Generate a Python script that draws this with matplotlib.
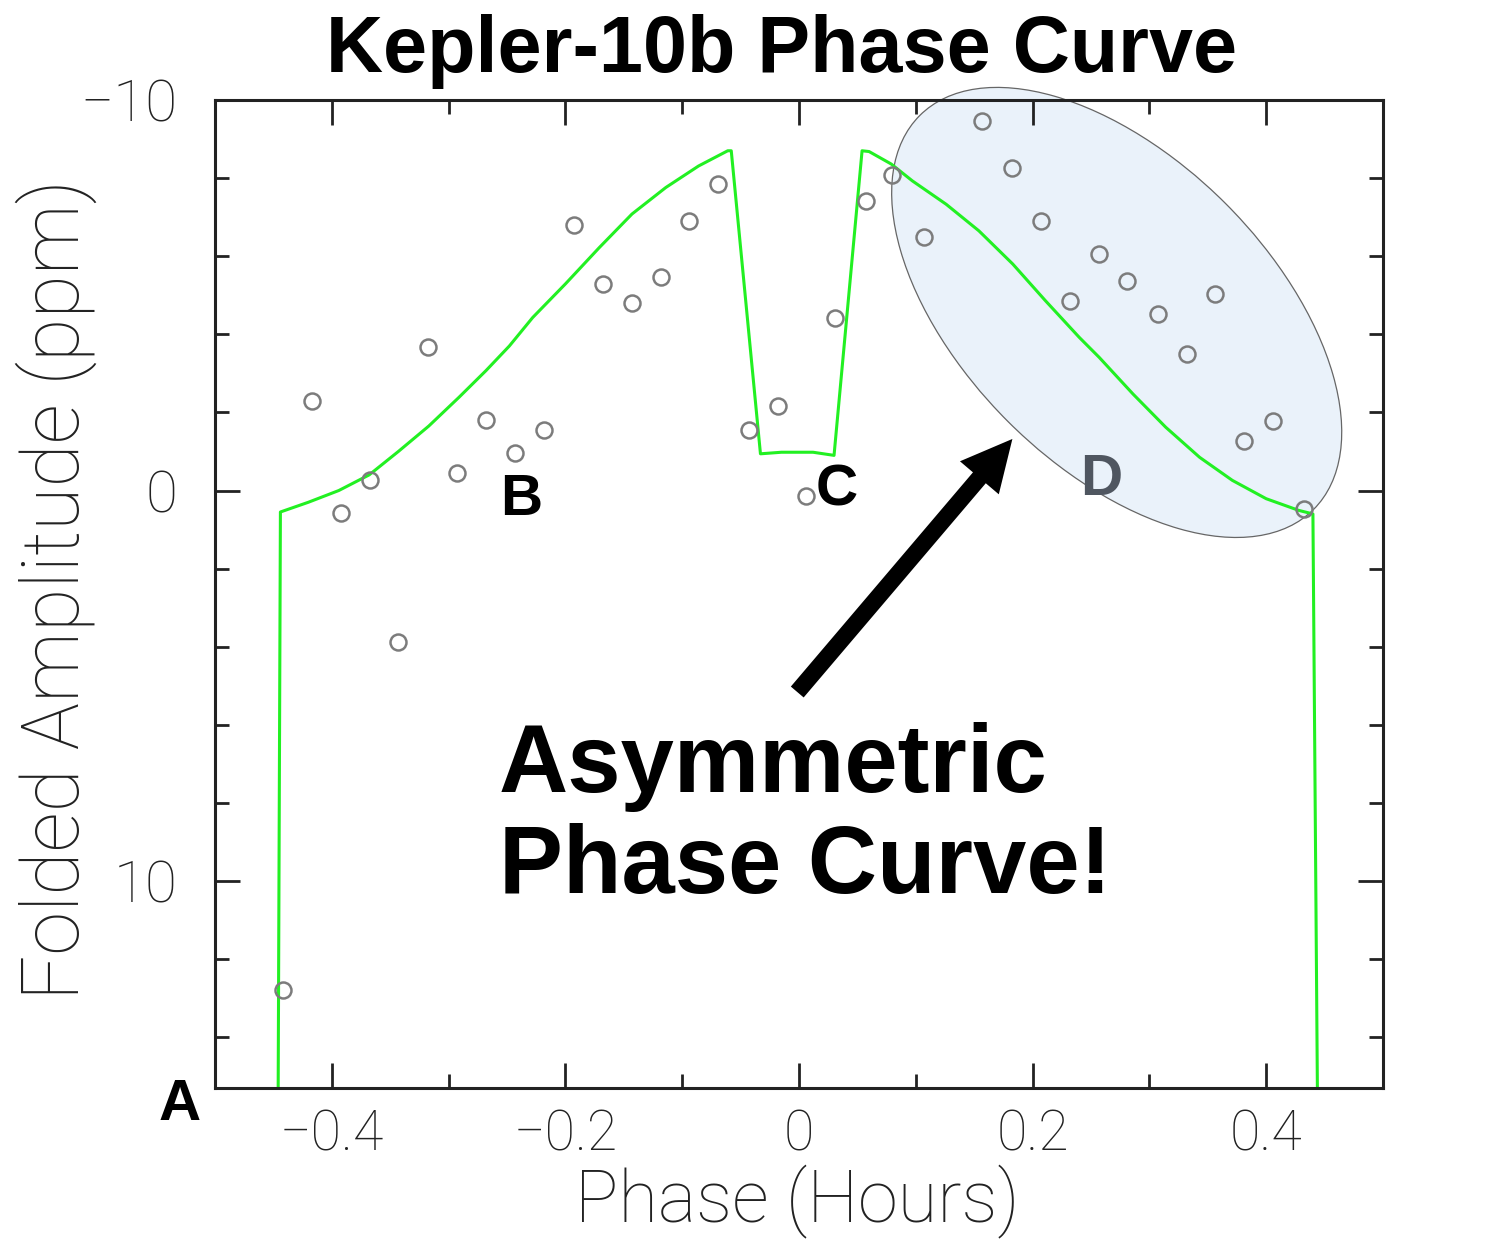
import matplotlib
matplotlib.use("Agg")
import matplotlib.pyplot as plt
from matplotlib.patches import Ellipse, FancyArrowPatch
from matplotlib import transforms
from matplotlib.ticker import MultipleLocator

# ---------------- data ----------------
phase_obs = [-0.442, -0.417, -0.392, -0.367, -0.343, -0.318, -0.293, -0.268,
             -0.243, -0.218, -0.193, -0.168, -0.143, -0.118, -0.094, -0.069,
             -0.043, -0.018, 0.006, 0.031, 0.057, 0.080, 0.107, 0.157,
             0.182, 0.207, 0.232, 0.257, 0.281, 0.307, 0.332, 0.356,
             0.381, 0.406, 0.432]
amp_obs = [12.80, -2.30, 0.58, -0.26, 3.88, -3.67, -0.44, -1.81,
           -0.95, -1.56, -6.81, -5.29, -4.79, -5.46, -6.90, -7.84,
           -1.55, -2.16, 0.15, -4.43, -7.42, -8.09, -6.48, -9.45,
           -8.25, -6.91, -4.86, -6.05, -5.36, -4.52, -3.50, -5.03,
           -1.28, -1.79, 0.47]

model_phase = [-0.446, -0.444, -0.420, -0.394, -0.368, -0.343, -0.317, -0.291,
               -0.268, -0.248, -0.228, -0.200, -0.171, -0.143, -0.114, -0.086,
               -0.061, -0.058, -0.033, -0.015, 0.012, 0.030, 0.054, 0.060,
               0.079, 0.097, 0.126, 0.154, 0.183, 0.211, 0.240, 0.257,
               0.286, 0.314, 0.343, 0.371, 0.400, 0.428, 0.440, 0.444]
model_amp = [16.0, 0.55, 0.30, 0.00, -0.40, -1.00, -1.65, -2.39,
             -3.07, -3.70, -4.43, -5.29, -6.22, -7.08, -7.76, -8.31,
             -8.70, -8.70, -0.94, -0.98, -0.98, -0.90, -8.70, -8.68,
             -8.36, -7.93, -7.33, -6.65, -5.80, -4.86, -3.92, -3.41,
             -2.47, -1.62, -0.85, -0.26, 0.21, 0.51, 0.60, 16.0]

x_major = [-0.4, -0.2, 0.0, 0.2, 0.4]
x_labels = ["\u22120.4", "\u22120.2", "0", "0.2", "0.4"]
y_major = [-10, 0, 10]
y_labels = ["\u221210", "0", "10"]

W, H = 1504, 1242
fig = plt.figure(figsize=(W / 100, H / 100), dpi=100)
ax = fig.add_axes([215 / W, 1 - 1088 / H, (1383 - 215) / W, (1088 - 100) / H])

thin = dict(family=["Roboto", "DejaVu Sans"], fontweight="light")
bold = dict(family=["Liberation Sans", "DejaVu Sans"], fontweight="bold")

ax.plot(model_phase, model_amp, color="#22f022", lw=2.2, zorder=2)
ax.plot(phase_obs, amp_obs, "o", mfc="none", mec="#7c7c7c", ms=11.5, mew=1.8,
        zorder=3)

ax.set_xlim(-0.5, 0.5)
ax.set_ylim(15.3, -10)

ax.set_xticks(x_major)
ax.set_xticklabels(x_labels, fontsize=40, **thin)
ax.set_yticks(y_major)
ax.set_yticklabels(y_labels, fontsize=42, **thin)
ax.xaxis.set_minor_locator(MultipleLocator(0.1))
ax.yaxis.set_minor_locator(MultipleLocator(2))
ax.tick_params(which="both", direction="in", top=True, right=True,
               width=2.0, color="#222222", labelcolor="#222222")
ax.tick_params(which="major", length=18)
ax.tick_params(which="minor", length=10)
ax.tick_params(axis="x", which="major", pad=15)
ax.tick_params(axis="y", which="major", pad=27)
for s in ax.spines.values():
    s.set_linewidth(2.2)
    s.set_color("#222222")

# highlight ellipse (pixel-sized, anchored to data point)
ell_tr = transforms.Affine2D().scale(fig.dpi / 100) + \
    transforms.ScaledTranslation(0.272, -4.56, ax.transData)
ell = Ellipse((0, 0), width=557, height=308, angle=-45,
              facecolor="#eaf2fa", edgecolor="#666666", lw=0.9,
              transform=ell_tr, zorder=1, clip_on=False)
ax.add_patch(ell)

# arrow
arr = FancyArrowPatch(posA=(-0.0015, 5.16), posB=(0.1827, -1.32),
                      arrowstyle="simple,head_length=1.0,head_width=1.0,tail_width=0.33",
                      mutation_scale=36.7, color="black", lw=0,
                      shrinkA=0, shrinkB=0, transform=ax.transData,
                      zorder=5, clip_on=False)
ax.add_patch(arr)

# texts
fig.text(782 / W, 1 - 72 / H, "Kepler-10b Phase Curve", ha="center",
         va="baseline", fontsize=57, **bold)
fig.text(499 / W, 1 - 792 / H, "Asymmetric", ha="left", va="baseline",
         fontsize=69, **bold)
fig.text(499 / W, 1 - 893 / H, "Phase Curve!", ha="left", va="baseline",
         fontsize=69, **bold)
for lab, px, py, col in [("A", 180, 1120, "black"), ("B", 521, 515, "black"),
                         ("C", 837, 505, "black"), ("D", 1101, 495, "#4f5660")]:
    fig.text(px / W, 1 - py / H, lab, ha="center", va="baseline",
             fontsize=42, color=col, **bold)

fig.text(797 / W, 1 - 1222 / H, "Phase (Hours)", ha="center", va="baseline",
         fontsize=52, color="#222222", **thin)
fig.text(79 / W, 1 - 590 / H, "Folded Amplitude (ppm)", ha="center",
         va="baseline", rotation=90, rotation_mode="anchor", fontsize=57,
         color="#222222", **thin)

fig.savefig("out.png", dpi=100, facecolor="white")
